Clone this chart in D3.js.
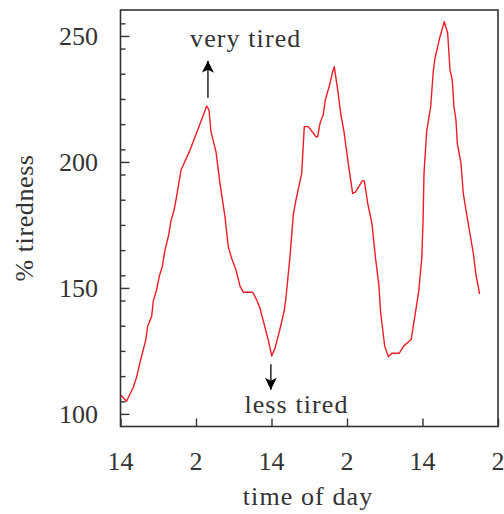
<!DOCTYPE html>
<html><head><meta charset="utf-8">
<script src="https://cdn.jsdelivr.net/npm/d3@7"></script>
<style>body{margin:0;background:#fff}svg{display:block}text{font-family:"Liberation Serif","DejaVu Serif",serif;fill:#333}</style>
</head><body><svg id="c" width="504" height="514"></svg>
<script>
// hours since 14:00 on day 1
const hours = [0.08,0.95,2.03,2.57,3.10,4.01,4.32,4.96,5.21,5.75,6.17,6.64,7.07,7.66,7.98,8.55,9.09,9.62,11.05,12.36,13.70,14.07,14.38,15.18,15.81,16.61,17.13,17.67,18.36,18.99,19.52,21.01,21.65,22.17,22.81,23.49,24.03,24.55,25.24,25.99,26.26,26.94,27.46,27.89,28.80,29.21,29.85,31.07,31.34,31.71,32.23,32.55,33.18,33.73,33.98,34.52,35.00,35.52,36.20,36.90,37.27,37.54,38.43,38.75,39.29,39.97,40.53,41.07,41.34,41.67,41.99,42.58,43.12,44.31,45.01,46.20,46.63,47.39,47.89,48.09,48.24,48.66,49.30,49.71,49.98,50.41,50.78,51.46,52.00,52.37,52.73,53.00,53.32,53.53,54.12,54.48,54.91,55.55,56.10,56.50,56.91,57.06];
const tiredness = [107.4,105.0,110.5,114.7,120.4,129.3,134.8,138.8,144.8,149.4,154.7,158.4,165.0,171.0,176.2,181.2,188.8,196.8,204.7,213.3,222.2,220.6,212.0,204.0,191.5,178.2,166.3,161.7,157.1,150.7,148.3,148.3,145.2,141.9,135.9,129.3,123.0,126.0,132.6,140.5,145.2,162.4,178.9,184.9,195.5,214.0,214.0,210.0,210.0,215.3,218.9,224.6,230.1,235.8,237.8,228.6,219.3,212.0,199.4,187.5,187.9,188.8,192.5,192.5,183.6,175.4,161.9,151.1,140.4,133.6,126.9,122.7,124.1,124.1,126.9,129.5,136.3,148.4,161.9,176.8,195.5,212.0,221.9,235.8,241.1,245.8,249.7,255.7,251.1,236.5,232.5,221.9,216.6,207.4,199.4,187.5,180.9,171.4,163.4,155.1,149.9,147.5];
const xTickValues = [0,12,24,36,48,60];
const xTickLabels = ["14","2","14","2","14","2"];
const yMajorTicks = [100,150,200,250];
const yMinorTicks = [105,115,125,135,145,155,165,175,185,195,205,215,225,235,245,255];
const annotations = [
  {text:"very tired", tx:19.9, ty:245.8, ax:13.9, from:225.5, to:240.2},
  {text:"less tired", tx:27.97, ty:100.2, ax:23.9, from:119.7, to:109.6}
];

const svg = d3.select("#c");
const L=120.5, R=498, T=10, B=426.5;
const x = d3.scaleLinear().domain([0,60]).range([L,R]);
const y = d3.scaleLinear().domain([95,260.3]).range([B,T]);
const ink="#333";

svg.append("defs").append("marker").attr("id","ah").attr("viewBox","0 0 10 10")
  .attr("refX",10).attr("refY",5).attr("markerWidth",12).attr("markerHeight",12)
  .attr("markerUnits","userSpaceOnUse").attr("orient","auto")
  .append("path").attr("d","M0,0 L10,5 L0,10 L2.5,5 Z").attr("fill","#000");

// x axis ticks (inward)
const xa = svg.append("g").attr("transform",`translate(0,${B})`)
  .call(d3.axisTop(x).tickValues(xTickValues).tickSize(8).tickFormat(""));
xa.select(".domain").remove();
xa.selectAll("line").attr("stroke",ink).attr("stroke-width",1.4);
svg.append("g").selectAll("text").data(xTickValues).join("text")
  .attr("x",d=>x(d)).attr("y",470).attr("text-anchor","middle")
  .attr("font-size",26).text((d,i)=>xTickLabels[i]);

// y axis ticks (inward)
const ya = svg.append("g").attr("transform",`translate(${L},0)`)
  .call(d3.axisRight(y).tickValues(yMajorTicks).tickSize(9).tickFormat(""));
ya.select(".domain").remove();
ya.selectAll("line").attr("stroke",ink).attr("stroke-width",1.4);
const ym = svg.append("g").attr("transform",`translate(${L},0)`)
  .call(d3.axisRight(y).tickValues(yMinorTicks).tickSize(5).tickFormat(""));
ym.select(".domain").remove();
ym.selectAll("line").attr("stroke",ink).attr("stroke-width",1.4);
svg.append("g").selectAll("text").data(yMajorTicks).join("text")
  .attr("x",98).attr("y",d=>y(d)+9).attr("text-anchor","end")
  .attr("font-size",26).text(d=>d);

// frame
svg.append("rect").attr("x",L).attr("y",T).attr("width",R-L).attr("height",B-T)
  .attr("fill","none").attr("stroke",ink).attr("stroke-width",1.6);

// data line
svg.append("path").datum(hours.map((h,i)=>[h,tiredness[i]]))
  .attr("fill","none").attr("stroke","#ee1c25").attr("stroke-width",1.4)
  .attr("stroke-linejoin","round")
  .attr("d",d3.line().x(d=>x(d[0])).y(d=>y(d[1])));

// annotations
annotations.forEach(a=>{
  svg.append("line").attr("x1",x(a.ax)).attr("x2",x(a.ax))
    .attr("y1",y(a.from)).attr("y2",y(a.to))
    .attr("stroke","#000").attr("stroke-width",1.3).attr("marker-end","url(#ah)");
  svg.append("text").attr("x",x(a.tx)).attr("y",y(a.ty)).attr("text-anchor","middle")
    .attr("font-size",26).attr("letter-spacing","1.1px").text(a.text);
});

// axis titles
svg.append("text").attr("x",308).attr("y",505).attr("text-anchor","middle")
  .attr("font-size",26).attr("letter-spacing","1.1px").text("time of day");
svg.append("text").attr("transform","translate(33,218) rotate(-90)")
  .attr("text-anchor","middle").attr("font-size",26).attr("letter-spacing","0.6px").text("% tiredness");
</script></body></html>
